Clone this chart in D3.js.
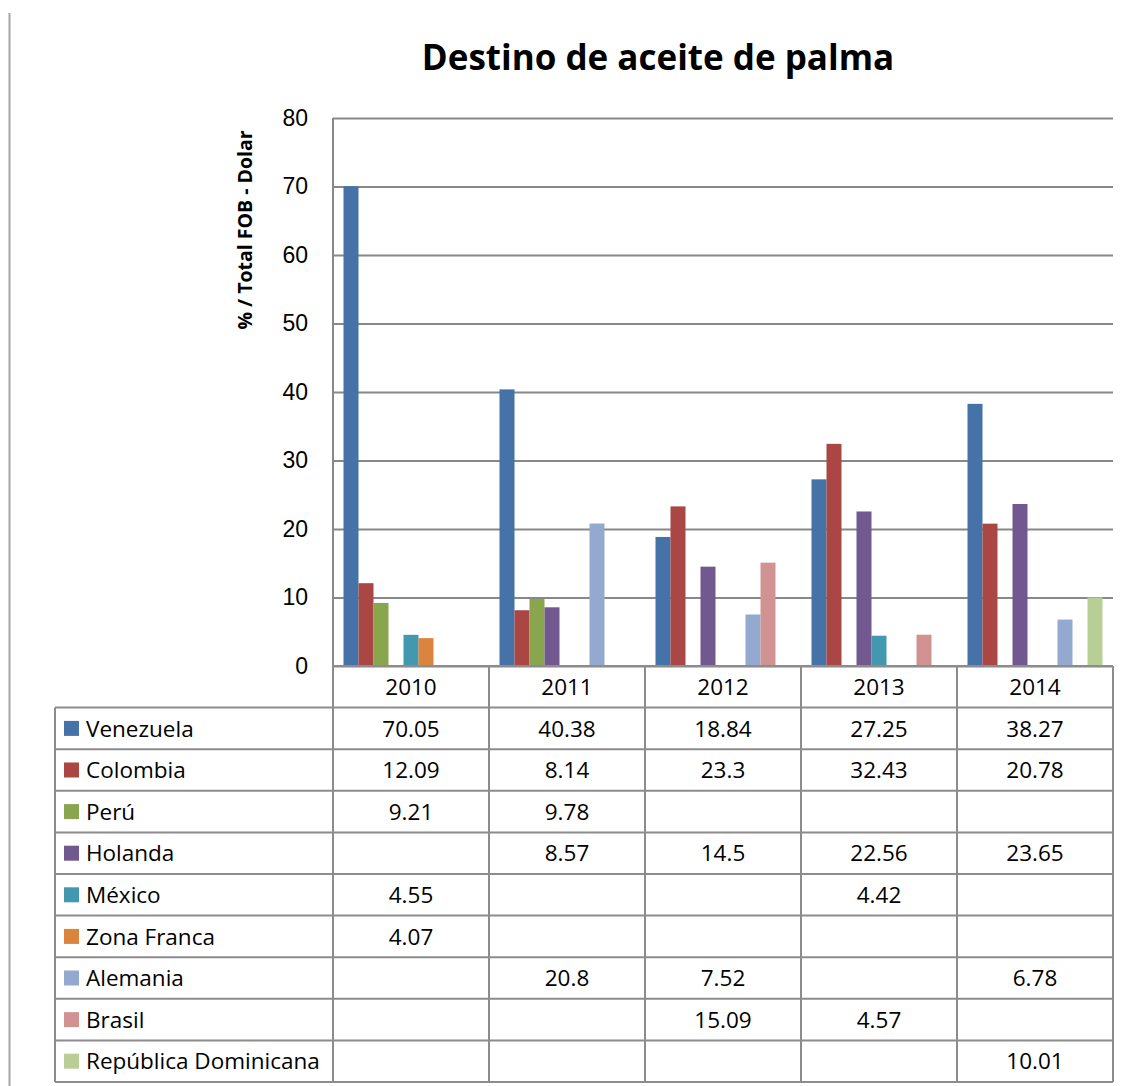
<!DOCTYPE html>
<html>
<head>
<meta charset="utf-8">
<script src="https://cdn.jsdelivr.net/npm/d3@7"></script>
<style>
  body { margin: 0; background: #fff; }
  svg { display: block; font-family: "Open Sans", sans-serif; }
  .grid line { stroke: #888; stroke-width: 1.8; }
  .grid path { display: none; }
  .grid text { font-size: 23px; fill: #000; }
  .cell { stroke: #8c8c8c; stroke-width: 2; fill: none; }
  .tbl text { font-size: 22.5px; fill: #000; }
</style>
</head>
<body>
<svg id="chart" width="1128" height="1086"></svg>
<script>
// data
var years = ["2010", "2011", "2012", "2013", "2014"];
var countries = ["Venezuela", "Colombia", "Perú", "Holanda", "México", "Zona Franca", "Alemania", "Brasil", "República Dominicana"];
var colors = ["#4572A7", "#AA4643", "#89A54E", "#71588F", "#4198AF", "#DB843D", "#93A9CF", "#D19392", "#B9CD96"];

var venezuela  = [70.05, 40.38, 18.84, 27.25, 38.27];
var colombia   = [12.09, 8.14, 23.3, 32.43, 20.78];
var peru       = [9.21, 9.78, null, null, null];
var holanda    = [null, 8.57, 14.5, 22.56, 23.65];
var mexico     = [4.55, null, null, 4.42, null];
var zonaFranca = [4.07, null, null, null, null];
var alemania   = [null, 20.8, 7.52, null, 6.78];
var brasil     = [null, null, 15.09, 4.57, null];
var repDom     = [null, null, null, null, 10.01];

var yTicks = [0, 10, 20, 30, 40, 50, 60, 70, 80];

var series = [venezuela, colombia, peru, holanda, mexico, zonaFranca, alemania, brasil, repDom];

var PLOT = {left: 333, right: 1113, top: 118, bottom: 666};
var ROW_H = 41.6;
var TABLE_LEFT = 55;

var svg = d3.select("#chart");

// page edge line on the left
svg.append("line")
	.attr("x1", 9.5).attr("x2", 9.5)
	.attr("y1", 13).attr("y2", 1086)
	.attr("stroke", "#a6a6a6").attr("stroke-width", 2);

svg.append("text")
	.attr("x", 658).attr("y", 70)
	.attr("text-anchor", "middle")
	.style("font-size", "35px").style("font-weight", "bold")
	.text("Destino de aceite de palma");

var x0 = d3.scaleBand().domain(years).range([PLOT.left, PLOT.right]).padding(0);
var x1 = d3.scaleBand().domain(d3.range(countries.length))
	.range([0, x0.bandwidth()]).paddingInner(0).paddingOuter(0.7);
var y = d3.scaleLinear().domain([0, 80]).range([PLOT.bottom, PLOT.top]);

var grid = svg.append("g")
	.attr("class", "grid")
	.attr("transform", "translate(" + PLOT.left + ",0)")
	.call(d3.axisLeft(y).tickValues(yTicks).tickSizeInner(-(PLOT.right - PLOT.left)).tickSizeOuter(0).tickPadding(25));

svg.append("text")
	.attr("transform", "translate(252,230) rotate(-90)")
	.attr("text-anchor", "middle")
	.style("font-size", "19.5px").style("font-weight", "bold")
	.text("% / Total FOB - Dolar");

// bars
var groups = svg.append("g").selectAll("g")
	.data(years)
	.enter().append("g")
	.attr("transform", function(d) { return "translate(" + x0(d) + ",0)"; });

groups.selectAll("rect")
	.data(function(year, yi) {
		return series.map(function(s, si) { return {si: si, v: s[yi]}; })
			.filter(function(d) { return d.v != null; });
	})
	.enter().append("rect")
	.attr("x", function(d) { return x1(d.si); })
	.attr("width", x1.bandwidth())
	.attr("y", function(d) { return y(d.v); })
	.attr("height", function(d) { return y(0) - y(d.v); })
	.attr("fill", function(d) { return colors[d.si]; });

// left axis line
svg.append("line")
	.attr("x1", PLOT.left).attr("x2", PLOT.left)
	.attr("y1", PLOT.top).attr("y2", PLOT.bottom)
	.attr("stroke", "#888").attr("stroke-width", 2);

// data table
var tbl = svg.append("g").attr("class", "tbl");
var tableBottom = PLOT.bottom + ROW_H * (countries.length + 1);

years.forEach(function(yr) {
	tbl.append("text")
		.attr("x", x0(yr) + x0.bandwidth() / 2)
		.attr("y", PLOT.bottom + ROW_H / 2)
		.attr("dy", "0.36em")
		.attr("text-anchor", "middle")
		.text(yr);
});

// horizontal lines
d3.range(countries.length + 2).forEach(function(i) {
	var yy = PLOT.bottom + i * ROW_H;
	tbl.append("line").attr("class", "cell")
		.attr("x1", i === 0 ? PLOT.left : TABLE_LEFT)
		.attr("x2", PLOT.right)
		.attr("y1", yy).attr("y2", yy);
});

// vertical lines
x0.domain().concat([null]).forEach(function(yr) {
	var xx = yr == null ? PLOT.right : x0(yr);
	tbl.append("line").attr("class", "cell")
		.attr("x1", xx).attr("x2", xx)
		.attr("y1", PLOT.bottom).attr("y2", tableBottom);
});
tbl.append("line").attr("class", "cell")
	.attr("x1", TABLE_LEFT).attr("x2", TABLE_LEFT)
	.attr("y1", PLOT.bottom + ROW_H).attr("y2", tableBottom);

countries.forEach(function(name, ci) {
	var cy = PLOT.bottom + ROW_H * (ci + 1) + ROW_H / 2;
	tbl.append("rect")
		.attr("x", 64).attr("y", cy - 7.5)
		.attr("width", 15).attr("height", 15)
		.attr("fill", colors[ci]);
	tbl.append("text")
		.attr("x", 86).attr("y", cy)
		.attr("dy", "0.36em")
		.text(name);
	series[ci].forEach(function(v, yi) {
		if (v == null) return;
		tbl.append("text")
			.attr("x", x0(years[yi]) + x0.bandwidth() / 2)
			.attr("y", cy)
			.attr("dy", "0.36em")
			.attr("text-anchor", "middle")
			.text(String(v));
	});
});
</script>
</body>
</html>
